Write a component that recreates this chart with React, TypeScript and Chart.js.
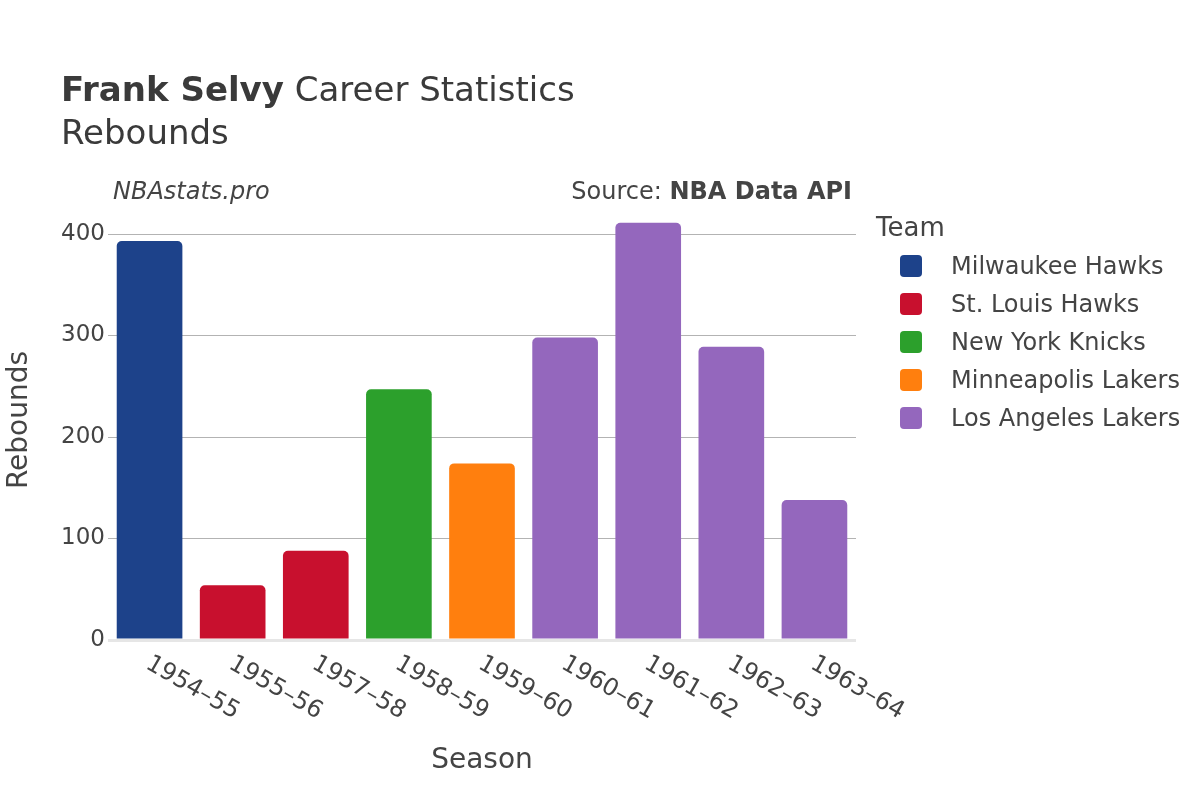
import React, { useEffect, useRef } from 'react';
import { Chart, registerables } from 'chart.js';

Chart.register(...registerables);

const seasons = ['1954–55', '1955–56', '1957–58', '1958–59', '1959–60', '1960–61', '1961–62', '1962–63', '1963–64'];
const rebounds = [393, 54, 88, 247, 174, 298, 411, 289, 138];
const seasonTeams = [
  'Milwaukee Hawks',
  'St. Louis Hawks',
  'St. Louis Hawks',
  'New York Knicks',
  'Minneapolis Lakers',
  'Los Angeles Lakers',
  'Los Angeles Lakers',
  'Los Angeles Lakers',
  'Los Angeles Lakers',
];
const teams = ['Milwaukee Hawks', 'St. Louis Hawks', 'New York Knicks', 'Minneapolis Lakers', 'Los Angeles Lakers'];
const teamColors = ['#1d428a', '#c8102e', '#2ca02c', '#ff7f0e', '#9467bd'];
const yTicks = [0, 100, 200, 300, 400];
const yMax = 433.5;

const FONT = '"DejaVu Sans", sans-serif';
const TEXT = '#444';

const xLabelPlugin = {
  id: 'xLabels',
  afterDraw(chart: any) {
    const xs = chart.scales.x;
    const ctx = chart.ctx;
    ctx.save();
    ctx.font = `24px ${FONT}`;
    ctx.fillStyle = TEXT;
    ctx.textAlign = 'left';
    ctx.textBaseline = 'middle';
    seasons.forEach((s, i) => {
      const x = xs.getPixelForValue(i);
      ctx.save();
      ctx.translate(x - 2, chart.chartArea.bottom + 22);
      ctx.rotate(Math.PI / 6);
      ctx.fillText(s, 0, 0);
      ctx.restore();
    });
    ctx.restore();
  },
};

export default function App() {
  const ref = useRef<HTMLCanvasElement>(null);

  useEffect(() => {
    document.body.style.margin = '0';
    const canvas = ref.current;
    if (!canvas) return;
    const datasets = teams.map((team, ti) => ({
      label: team,
      data: rebounds.map((v, i) => (seasonTeams[i] === team ? v : null)),
      backgroundColor: teamColors[ti],
      borderWidth: 0,
      borderRadius: { topLeft: 5, topRight: 5, bottomLeft: 0, bottomRight: 0 },
      borderSkipped: false,
      barPercentage: 0.79,
      categoryPercentage: 1,
    }));
    const chart = new Chart(canvas, {
      type: 'bar',
      data: { labels: seasons, datasets: datasets as any },
      plugins: [xLabelPlugin],
      options: {
        animation: false,
        responsive: false,
        maintainAspectRatio: false,
        devicePixelRatio: 1,
        layout: { padding: { left: 0, right: 344, top: 200, bottom: 0 } },
        plugins: {
          legend: { display: false },
          tooltip: { enabled: false },
          title: { display: false },
        },
        scales: {
          x: {
            stacked: true,
            grid: { display: false },
            border: { display: false },
            ticks: { display: false },
            title: {
              display: true,
              text: 'Season',
              font: { family: FONT, size: 28 },
              color: TEXT,
              padding: 22,
            },
            afterFit: (s: any) => {
              s.height = 160;
            },
          },
          y: {
            stacked: true,
            min: 0,
            max: yMax,
            afterBuildTicks: (s: any) => {
              s.ticks = yTicks.map((v) => ({ value: v }));
            },
            ticks: {
              font: { family: FONT, size: 23 },
              color: TEXT,
              padding: 3,
            },
            grid: {
              color: (c: any) => (c.tick && c.tick.value === 0 ? '#e6e6e6' : '#b3b3b3'),
              lineWidth: (c: any) => (c.tick && c.tick.value === 0 ? 3 : 1),
              drawTicks: false,
            },
            border: { display: false },
            title: {
              display: true,
              text: 'Rebounds',
              font: { family: FONT, size: 28 },
              color: TEXT,
              padding: 3,
            },
            afterFit: (s: any) => {
              s.width = 108;
            },
          },
        },
      } as any,
    });
    return () => chart.destroy();
  }, []);

  return (
    <div style={{ position: 'relative', width: 1200, height: 800, fontFamily: FONT, color: TEXT, background: '#fff' }}>
      <canvas ref={ref} width={1200} height={800} style={{ position: 'absolute', left: 0, top: 0, width: 1200, height: 800 }} />
      <div style={{ position: 'absolute', left: 61, top: 72, fontSize: 34, lineHeight: '34px', whiteSpace: 'nowrap', color: '#3a3a3a' }}>
        <b>Frank Selvy</b> Career Statistics
      </div>
      <div style={{ position: 'absolute', left: 61, top: 115, fontSize: 34, lineHeight: '34px', whiteSpace: 'nowrap', color: '#3a3a3a' }}>
        Rebounds
      </div>
      <div style={{ position: 'absolute', left: 113, top: 179, fontSize: 24, lineHeight: '24px', fontStyle: 'italic', whiteSpace: 'nowrap' }}>
        NBAstats.pro
      </div>
      <div style={{ position: 'absolute', right: 348, top: 179, fontSize: 24, lineHeight: '24px', whiteSpace: 'nowrap' }}>
        Source: <b>NBA Data API</b>
      </div>
      <div style={{ position: 'absolute', left: 876, top: 214, fontSize: 26, lineHeight: '26px', whiteSpace: 'nowrap' }}>
        Team
      </div>
      {teams.map((t, i) => (
        <div key={t}>
          <div
            style={{
              position: 'absolute',
              left: 900,
              top: 255 + i * 38,
              width: 22,
              height: 22,
              borderRadius: 4,
              background: teamColors[i],
            }}
          />
          <div style={{ position: 'absolute', left: 951, top: 254 + i * 38, fontSize: 24, lineHeight: '24px', whiteSpace: 'nowrap' }}>
            {t}
          </div>
        </div>
      ))}
    </div>
  );
}
